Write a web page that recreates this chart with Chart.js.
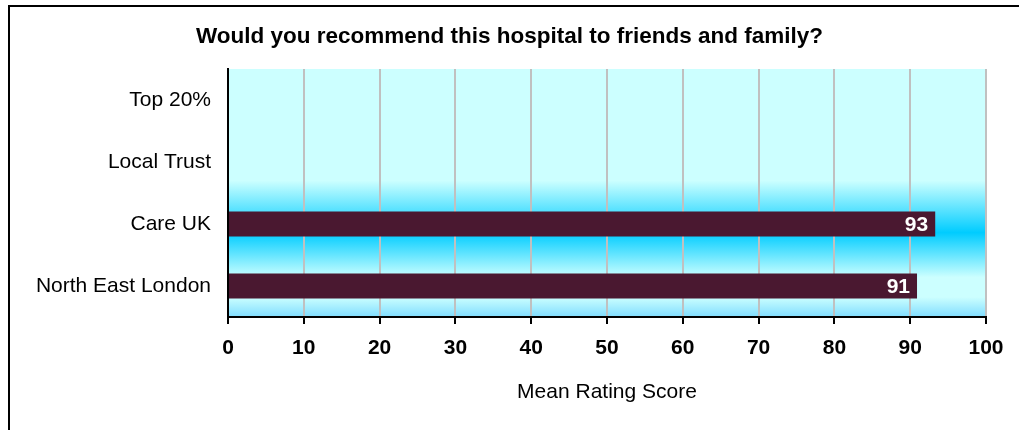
<!DOCTYPE html>
<html>
<head>
<meta charset="utf-8">
<script src="https://cdn.jsdelivr.net/npm/chart.js@4/dist/chart.umd.min.js"></script>
<style>
  body { margin: 0; background: #ffffff; overflow: hidden; }
  #frame {
    position: absolute;
    left: 8px;
    top: 5px;
    width: 1100px;
    height: 500px;
    border: 2px solid #000000;
  }
  #chartBox { position: absolute; left: 0; top: 0; width: 1019px; height: 430px; }
</style>
</head>
<body>
<div id="frame"></div>
<div id="chartBox"><canvas id="ratingChart" width="1019" height="430"></canvas></div>
<script>
const chartTitle = "Would you recommend this hospital to friends and family?";
const axisTitle = "Mean Rating Score";
const categories = ["Top 20%", "Local Trust", "Care UK", "North East London"];
const scores = [null, null, 93.3, 90.9];
const xTicks = [0, 10, 20, 30, 40, 50, 60, 70, 80, 90, 100];

const fontFamily = "'Liberation Sans', Arial, sans-serif";
const barColor = "rgb(74, 24, 48)";

// cyan band behind the plot, brightest around the Care UK row
const plotBackground = {
  id: "plotBackground",
  beforeDraw(chart) {
    const { ctx, chartArea } = chart;
    const grad = ctx.createLinearGradient(0, chartArea.top, 0, chartArea.bottom);
    grad.addColorStop(0, "#ccffff");
    grad.addColorStop(0.45, "#ccffff");
    grad.addColorStop(0.66, "#00ccff");
    grad.addColorStop(0.84, "#ccffff");
    grad.addColorStop(0.92, "#ccffff");
    grad.addColorStop(1, "#80ddff");
    ctx.save();
    ctx.fillStyle = grad;
    ctx.fillRect(chartArea.left, chartArea.top, chartArea.right - chartArea.left, chartArea.bottom - chartArea.top);
    ctx.restore();
  },
};

const barLabels = {
  id: "barLabels",
  afterDatasetsDraw(chart) {
    const { ctx } = chart;
    const meta = chart.getDatasetMeta(0);
    ctx.save();
    ctx.fillStyle = "#ffffff";
    ctx.font = "bold 21px " + fontFamily;
    ctx.textAlign = "right";
    ctx.textBaseline = "middle";
    meta.data.forEach((bar, i) => {
      const value = scores[i];
      if (value === null) return;
      ctx.fillText(Math.round(value).toString(), bar.x - 7, bar.y + 1);
    });
    ctx.restore();
  },
};

new Chart(document.getElementById("ratingChart"), {
  type: "bar",
  data: {
    labels: categories,
    datasets: [
      {
        data: scores,
        backgroundColor: barColor,
        borderWidth: 0,
        barPercentage: 0.4,
        categoryPercentage: 1,
      },
    ],
  },
  options: {
    indexAxis: "y",
    responsive: false,
    animation: false,
    layout: {
      padding: { left: 33, right: 33, top: 0, bottom: 0 },
    },
    plugins: {
      legend: { display: false },
      tooltip: { enabled: false },
      title: {
        display: true,
        text: chartTitle,
        color: "#000000",
        font: { family: fontFamily, size: 22.5, weight: "bold" },
        padding: { top: 23, bottom: 19 },
      },
    },
    scales: {
      x: {
        min: 0,
        max: 100,
        afterBuildTicks(scale) {
          scale.ticks = xTicks.map((v) => ({ value: v }));
        },
        afterFit(scale) {
          scale.height = 113;
        },
        ticks: {
          color: "#000000",
          font: { family: fontFamily, size: 21, weight: "bold" },
          padding: 12,
          maxRotation: 0,
        },
        grid: {
          color: "#c0c0c0",
          lineWidth: 2,
          tickColor: "#000000",
          tickLength: 7,
        },
        border: { color: "#000000", width: 2 },
        title: {
          display: true,
          text: axisTitle,
          color: "#000000",
          font: { family: fontFamily, size: 21 },
          padding: { top: 0, bottom: 25 },
        },
      },
      y: {
        afterFit(scale) {
          scale.width = 195;
        },
        ticks: {
          color: "#000000",
          font: { family: fontFamily, size: 21 },
          padding: 17,
        },
        grid: { display: false, drawTicks: false },
        border: { color: "#000000", width: 2 },
      },
    },
  },
  plugins: [plotBackground, barLabels],
});
</script>
</body>
</html>
